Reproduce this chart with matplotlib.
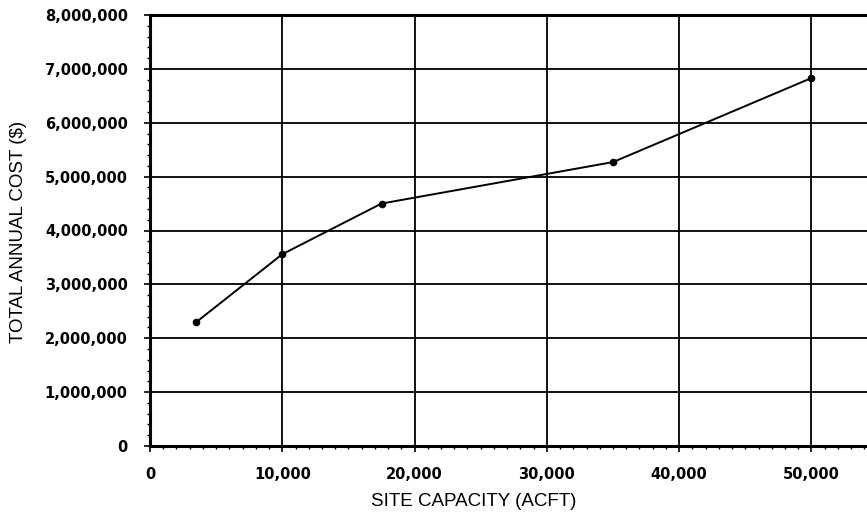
import matplotlib
matplotlib.use('Agg')
import matplotlib.pyplot as plt
from matplotlib.ticker import MultipleLocator, FuncFormatter

# Site capacity (acre-feet) vs total annual cost ($)
capacity = [3500, 10000, 17500, 35000, 50000]
annual_cost = [2300000, 3560000, 4500000, 5270000, 6830000]

x_ticks = [0, 10000, 20000, 30000, 40000, 50000]
y_ticks = [0, 1000000, 2000000, 3000000, 4000000, 5000000, 6000000, 7000000, 8000000]

W, H = 867, 516
fig = plt.figure(figsize=(W / 100, H / 100), dpi=100)
# axes runs a little past the right edge, as in the cropped scan
left, right, bottom, top = 150, 877.6, 70, 501
ax = fig.add_axes([left / W, bottom / H, (right - left) / W, (top - bottom) / H])

ax.plot(capacity, annual_cost, color='black', lw=1.4, marker='o', ms=4.5, zorder=3)

ax.set_xlim(0, 55000)
ax.set_ylim(0, 8000000)
ax.set_xticks(x_ticks)
ax.set_yticks(y_ticks)
ax.xaxis.set_minor_locator(MultipleLocator(1000))
ax.yaxis.set_minor_locator(MultipleLocator(200000))
ax.xaxis.set_major_formatter(FuncFormatter(lambda v, p: f'{int(v):,}'))
ax.yaxis.set_major_formatter(FuncFormatter(lambda v, p: f'{int(v):,}'))

ax.grid(True, which='major', color='black', lw=1.3)
ax.set_axisbelow(True)

for s in ['left', 'bottom', 'top']:
    ax.spines[s].set_linewidth(2.2)
ax.spines['right'].set_visible(False)

ax.tick_params(axis='both', which='major', direction='out', length=4, width=1.2,
               labelsize=10.5)
ax.tick_params(axis='both', which='minor', direction='out', length=2.5, width=1)
for lab in ax.get_xticklabels() + ax.get_yticklabels():
    lab.set_fontfamily('DejaVu Sans')
    lab.set_fontweight('bold')
ax.tick_params(axis='y', which='major', pad=12)
ax.tick_params(axis='x', which='major', pad=11)

fig.text(474 / W, 1 - 502 / H, 'SITE CAPACITY (ACFT)', ha='center', va='center',
         family='Liberation Sans', fontsize=13.5)
fig.text(19 / W, 1 - 232 / H, 'TOTAL ANNUAL COST ($)', ha='center', va='center',
         rotation=90, family='Liberation Sans', fontsize=13.5)

fig.savefig('out.png', dpi=100)
